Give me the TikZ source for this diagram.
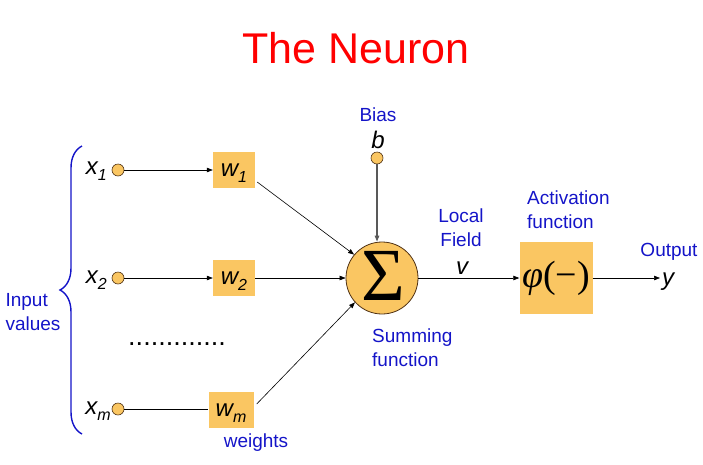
\documentclass[tikz,border=0pt]{standalone}
\usepackage{fontspec}
\setmainfont{Liberation Sans}
\newfontfamily\serifx{Liberation Serif}
\usetikzlibrary{arrows.meta,decorations.pathreplacing}
\definecolor{orng}{RGB}{250,198,98}
\definecolor{lblue}{RGB}{20,20,200}
\definecolor{edgec}{RGB}{80,50,20}
\newcommand{\sbx}[1]{\smash{\raisebox{-6pt}{\fontsize{16}{16}\selectfont #1}}}
\tikzset{
  inp/.style={circle,draw=edgec,fill=orng,line width=0.6pt,minimum size=12pt,inner sep=0pt},
  wbox/.style={fill=orng,minimum width=42pt,minimum height=36pt,inner sep=0pt,font=\fontsize{24}{26}\selectfont\itshape},
  lab/.style={font=\fontsize{24}{26}\selectfont\itshape,inner sep=0pt},
  bl/.style={text=lblue,font=\fontsize{19}{24}\selectfont,inner sep=0pt,align=left},
  conn/.style={line width=0.6pt,-{Triangle[length=6pt,width=4.5pt]}},
}
\begin{document}
\begin{tikzpicture}[x=1pt,y=-1pt]
\useasboundingbox (0,0) rectangle (703,464);
\node[text=red,font=\fontsize{43}{46}\selectfont,inner sep=0pt] (title) at (356,48) {The Neuron};
% inputs
\node[inp] (c1) at (118,170) {};
\node[inp] (c2) at (118,278) {};
\node[inp] (cm) at (118,409) {};
\node[lab,anchor=east] (x1) at (107,168) {x\sbx{1}};
\node[lab,anchor=east] (x2) at (107,277) {x\sbx{2}};
\node[lab,anchor=east] (xm) at (111,408) {x\sbx{m}};
% weights
\node[wbox] (w1) at (234,170) {w\sbx{1}};
\node[wbox] (w2) at (234,278) {w\sbx{2}};
\node[wbox,minimum width=45pt] (wm) at (231,410) {w\sbx{m}};
\draw[conn] (c1) -- (w1);
\draw[conn] (c2) -- (w2);
\draw[line width=0.6pt] (cm) -- (cm -| wm.west);
\node[font=\fontsize{27}{27}\selectfont,inner sep=0pt] (dots) at (177,344) {.............};
% brace
\draw[lblue,line width=1.4pt,decorate,decoration={brace,amplitude=22pt}] (82,434) -- (82,146);
\node[bl] (inval) at (33,312) {Input\\values};
% sum
\node[circle,draw=edgec,fill=orng,line width=0.8pt,minimum size=72pt,inner sep=0pt] (sum) at (382,278) {};
\node[font=\serifx\fontsize{75}{75}\selectfont,inner sep=0pt] at (383,276) {Σ};
% bias
\node[bl] (bias) at (378,115) {Bias};
\node[lab] (b) at (378,140) {b};
\node[inp] (cb) at (377,158) {};
\draw[line width=1.2pt,gray!70!black,-{Triangle[length=6pt,width=4.5pt]}] (cb) -- (cb |- sum.north);
\draw[conn] (w1.east) ++(2,12) coordinate (w1s) -- (sum.140);
\draw[conn] (w2) -- (sum);
\draw[conn] (wm.east) ++(3,-6) coordinate (wms) -- (sum.222);
% activation
\node[fill=orng,minimum width=73pt,minimum height=72pt,inner sep=0pt,font=\serifx\fontsize{38}{38}\selectfont] (act) at (556,278) {\itshape φ\upshape (−)};
\draw[conn] (sum) -- (act);
\coordinate (yout) at (660,278);
\draw[conn] (act) -- (yout);
\node[lab] (y) at (668,282) {y};
\node[bl] (out) at (669,252) {Output};
\node[bl,align=center] (lf) at (461,228) {Local\\Field};
\node[lab] (v) at (462,268) {v};
\node[bl,anchor=west] (actl) at (527,210) {Activation\\function};
\node[bl,anchor=west] (sumf) at (372,348) {Summing\\function};
\node[bl] (wts) at (256,443) {weights};
\end{tikzpicture}
\end{document}
